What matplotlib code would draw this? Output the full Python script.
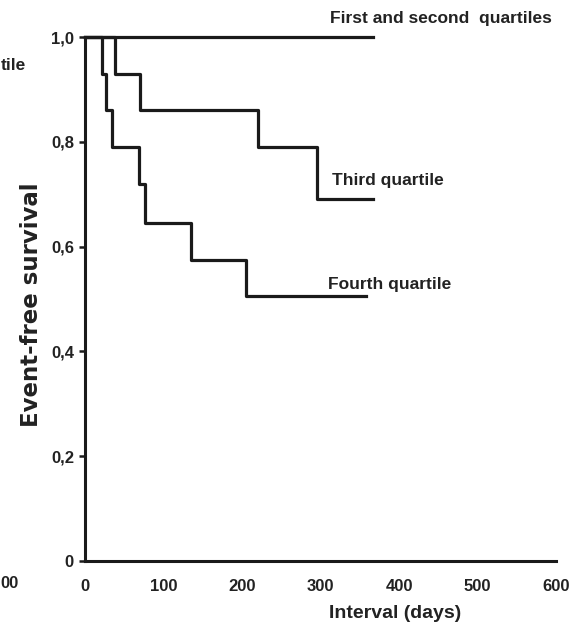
import matplotlib
matplotlib.use("Agg")
import matplotlib.pyplot as plt

# Kaplan-Meier steps (days, survival)
days_q12 = [0, 367]
surv_q12 = [1.0, 1.0]

days_q3 = [0, 38, 70, 220, 295, 367]
surv_q3 = [1.0, 0.93, 0.86, 0.79, 0.69, 0.69]

days_q4 = [0, 22, 27, 34, 69, 76, 135, 205, 358]
surv_q4 = [1.0, 0.93, 0.86, 0.79, 0.72, 0.645, 0.575, 0.505, 0.505]

x_ticks = [0, 100, 200, 300, 400, 500, 600]
y_ticks = [0, 0.2, 0.4, 0.6, 0.8, 1.0]
y_tick_labels = ["0", "0,2", "0,4", "0,6", "0,8", "1,0"]

plt.rcParams['font.family'] = ['Liberation Sans', 'DejaVu Sans']

W, H = 585, 637
fig = plt.figure(figsize=(W / 100, H / 100), dpi=100)
ax = fig.add_axes([85/W, 1 - 561/H, (556 - 85)/W, (561 - 37)/H])

lw = 2.3
for d, s in [(days_q12, surv_q12), (days_q3, surv_q3), (days_q4, surv_q4)]:
    ax.step(d, s, where='post', color='#1a1a1a', lw=lw, clip_on=False)

ax.set_xlim(0, 600)
ax.set_ylim(0, 1.0)
ax.set_xticks(x_ticks)
ax.set_xticklabels([str(t) for t in x_ticks], fontsize=12, fontweight='bold', color='#222222')
ax.set_yticks(y_ticks)
ax.set_yticklabels(y_tick_labels, fontsize=12, fontweight='bold', color='#222222')
ax.tick_params(axis='x', length=0, pad=13)
ax.tick_params(axis='y', length=4, width=1.8, pad=4, color='#1a1a1a')

for side in ['top', 'right']:
    ax.spines[side].set_visible(False)
for side in ['left', 'bottom']:
    ax.spines[side].set_linewidth(2.2)
    ax.spines[side].set_color('#1a1a1a')

ax.set_xlabel("Interval (days)", fontsize=14, fontweight='bold', color='#222222')
ax.xaxis.set_label_coords((395 - 85) / 471, (561 - 613) / 524)
ax.xaxis.label.set_va('center')

# the y title in the source is wide and letter-spaced
ax.set_ylabel("Event-free survival", fontsize=16.5, fontweight='bold', color='#222222',
              family='DejaVu Sans')
ax.yaxis.set_label_coords((32 - 85) / 471, (561 - 305) / 524)
ax.yaxis.label.set_va('center')

lab = dict(fontsize=12.5, fontweight='bold', color='#222222', va='center', ha='left')
fig.text(330/W, 1 - 18/H, "First and second  quartiles", **lab)
fig.text(332/W, 1 - 181/H, "Third quartile", **lab)
fig.text(328/W, 1 - 284/H, "Fourth quartile", **lab)

# leftovers of the neighbouring panel, cropped in the source
fig.text(1/W, 1 - 66/H, "tile", **lab)
fig.text(0/W, 1 - 583/H, "00", fontsize=12, fontweight='bold', color='#222222',
         ha='left', va='center')

fig.savefig("out.png", dpi=100)
